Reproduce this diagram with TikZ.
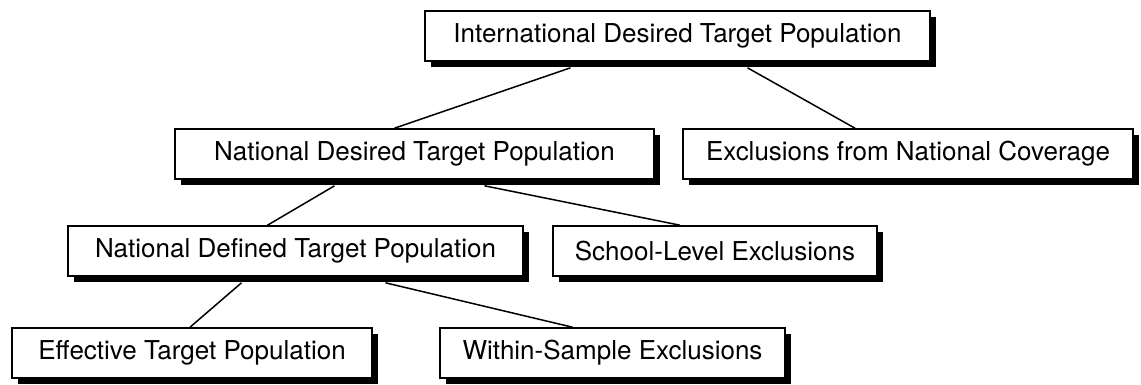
\documentclass[tikz,border=0pt]{standalone}
\usepackage{fontspec}
\setmainfont{TeX Gyre Heros}
\usetikzlibrary{shadows}

\tikzset{
  popbox/.style={draw, fill=white, line width=1.6pt, minimum height=50pt,
    inner sep=0pt, font=\fontsize{26}{30}\selectfont,
    drop shadow={shadow xshift=6pt, shadow yshift=-6pt, opacity=1, fill=black}},
  link/.style={line width=1.5pt}
}

\begin{document}
\begin{tikzpicture}[x=1pt,y=-1pt]
        \useasboundingbox (0,0) rectangle (1141,384);

        \node[popbox, minimum width=505pt] (idtp) at (677.5,36) {International Desired Target Population};
        \node[popbox, minimum width=479pt] (ndtp) at (414.5,154) {National Desired Target Population};
        \node[popbox, minimum width=450pt] (excl) at (908,154) {Exclusions from National Coverage};
        \node[popbox, minimum width=455pt] (ndef) at (295.5,251) {National Defined Target Population};
        \node[popbox, minimum width=324pt] (school) at (715,251) {School-Level Exclusions};
        \node[popbox, minimum width=360pt] (etp) at (192,353) {Effective Target Population};
        \node[popbox, minimum width=345pt] (wse) at (612.5,353) {Within-Sample Exclusions};

        \path [-, link] ([xshift=-107pt,yshift=-6pt]idtp.south) edge ([xshift=-20pt]ndtp.north);
        \path [-, link] ([xshift=70pt,yshift=-6pt]idtp.south) edge ([xshift=-53pt]excl.north);
        \path [-, link] ([xshift=-80pt,yshift=-6pt]ndtp.south) edge ([xshift=-28pt]ndef.north);
        \path [-, link] ([xshift=70pt,yshift=-6pt]ndtp.south) edge ([xshift=-35pt]school.north);
        \path [-, link] ([xshift=-54pt,yshift=-6pt]ndef.south) edge ([xshift=-2pt]etp.north);
        \path [-, link] ([xshift=90pt,yshift=-6pt]ndef.south) edge ([xshift=-40pt]wse.north);
\end{tikzpicture}
\end{document}
